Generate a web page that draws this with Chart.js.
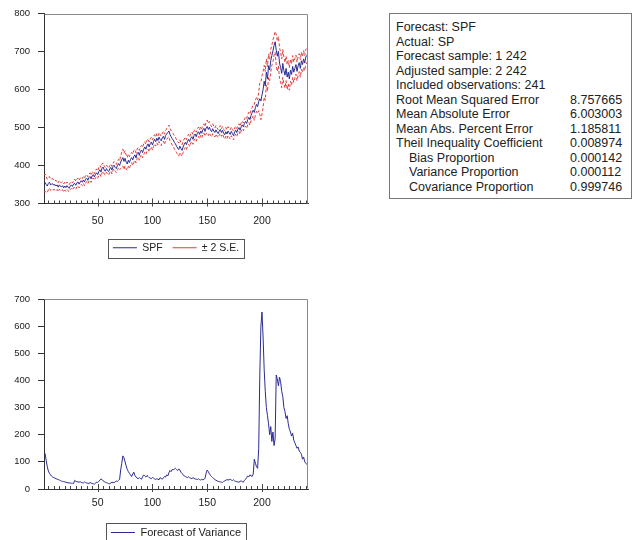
<!DOCTYPE html>
<html><head><meta charset="utf-8">
<script src="https://cdn.jsdelivr.net/npm/chart.js@4.4.1/dist/chart.umd.min.js"></script>
<style>
html,body{margin:0;padding:0;background:#fff;width:634px;height:540px;overflow:hidden;font-family:"Liberation Sans",Arial,sans-serif;}
#w1{position:absolute;left:0;top:0;width:320px;height:263px;}
#w2{position:absolute;left:0;top:280px;width:320px;height:268px;}
#stats{position:absolute;left:389px;top:13px;width:229px;border:1px solid #777;padding:6px 6px 4px 6px;font-size:12.5px;line-height:14.5px;color:#222;}
#stats table{border-collapse:collapse;width:100%;}
#stats td{padding:0;white-space:nowrap;}
#stats td.v{width:55px;}
#stats td.ind{padding-left:13px;}
</style></head>
<body>
<div id="w1"><canvas id="c1"></canvas></div>
<div id="w2"><canvas id="c2"></canvas></div>
<div id="stats"></div>
<script>
// ---- data ----
const obs = Array.from({length: 242}, (_, i) => i + 1); // observation numbers 1..242
const spf = [
352,355,350,346,353,356,349,351,352,348,
350,346,349,343,349,345,344,347,341,346,
342,347,343,340,346,349,345,351,353,348,
354,357,351,356,360,356,362,357,364,367,
361,368,371,365,373,376,370,377,381,376,
384,389,383,393,396,388,385,392,387,384,
391,395,388,397,401,395,392,400,405,400,
409,416,421,411,419,409,404,414,408,416,
421,415,424,428,420,431,435,427,437,441,
434,443,449,443,452,457,449,458,462,454,
463,469,463,472,466,475,469,465,473,477,
469,479,483,487,491,482,476,471,467,461,
457,451,446,442,451,445,440,449,456,461,
455,464,469,463,472,476,469,479,483,476,
485,489,482,491,485,494,498,490,499,503,
495,501,493,489,497,491,487,494,488,484,
491,495,487,493,485,481,489,483,491,486,
482,490,484,479,488,493,487,496,500,493,
502,507,502,511,516,511,521,527,521,532,
539,546,540,553,561,555,569,576,570,586,
600,622,610,646,628,663,652,676,690,702,
716,726,704,688,701,670,658,643,669,650,
638,656,633,646,628,651,640,661,646,656,
666,648,663,671,656,676,666,681,670,686,
690,696];
const varianceForecast = [
118,130,105,82,66,58,52,47,44,42,
40,38,36,35,33,31,29,28,27,26,
25,24,23,22,22,21,21,20,32,28,
27,26,25,27,24,23,22,26,24,22,
21,20,24,22,20,19,18,21,26,24,
28,33,37,35,30,27,25,23,22,20,
19,22,25,24,23,27,29,28,32,35,
70,95,122,115,100,85,72,64,58,52,
46,55,62,50,44,40,38,42,39,36,
45,52,48,44,50,46,42,40,38,43,
40,37,35,38,36,34,42,39,36,41,
46,44,52,48,60,68,64,72,70,74,
76,72,68,74,70,62,58,52,48,46,
44,42,45,41,40,38,42,39,37,36,
35,38,34,33,36,34,35,40,58,70,
64,56,50,46,42,38,35,32,30,28,
27,26,25,24,28,30,32,35,33,34,
36,33,31,34,30,28,27,26,25,28,
30,27,25,32,36,42,48,45,52,49,
46,55,110,95,82,76,150,420,600,652,
560,440,360,300,270,240,200,230,175,210,
160,185,420,405,380,412,395,360,340,300,
285,260,270,240,220,210,195,205,180,170,
160,150,155,140,135,128,110,118,100,95,
90,86];
const topYTicks = [300, 400, 500, 600, 700, 800];
const bottomYTicks = [0, 100, 200, 300, 400, 500, 600, 700];
const xLabelTicks = [50, 100, 150, 200];
const statsHeader = ['Forecast: SPF','Actual: SP','Forecast sample: 1 242','Adjusted sample: 2 242','Included observations: 241'];
const statsLabels = ['Root Mean Squared Error','Mean Absolute Error','Mean Abs. Percent Error','Theil Inequality Coefficient','Bias Proportion','Variance Proportion','Covariance Proportion'];
const statsValues = ['8.757665','6.003003','1.185811','0.008974','0.000142','0.000112','0.999746'];
const statsIndented = [false,false,false,false,true,true,true];

// ±2 S.E. bands: S.E. = sqrt(forecast variance)
const upper = spf.map((v, i) => v + 2 * Math.sqrt(varianceForecast[i]));
const lower = spf.map((v, i) => v - 2 * Math.sqrt(varianceForecast[i]));

// ---- stats box ----
(function(){
  const box = document.getElementById('stats');
  let html = '<table>';
  statsHeader.forEach(t => { html += '<tr><td colspan="2">' + t + '</td></tr>'; });
  statsLabels.forEach((t, i) => {
    html += '<tr><td' + (statsIndented[i] ? ' class="ind"' : '') + '>' + t + '</td><td class="v">' + statsValues[i] + '</td></tr>';
  });
  html += '</table>';
  box.innerHTML = html;
})();

// ---- chart helpers ----
Chart.defaults.font.family = '"Liberation Sans", Arial, sans-serif';
Chart.defaults.color = '#222';

const BLUE = '#2b2b94';
const RED = '#e23a3a';

const frame = {
  id: 'frame',
  afterLayout(chart) {
    // centre the legend under the plot area
    const lg = chart.legend, a = chart.chartArea;
    if (lg) { lg.left = a.left; lg.right = a.right; lg.width = a.right - a.left; }
  },
  afterDraw(chart) {
    const {ctx, chartArea: a} = chart;
    ctx.save();
    ctx.strokeStyle = '#8a8a8a';
    ctx.lineWidth = 1;
    ctx.beginPath();
    ctx.moveTo(Math.round(a.left) + 0.5, Math.round(a.top) + 0.5);
    ctx.lineTo(Math.round(a.right) - 0.5, Math.round(a.top) + 0.5);
    ctx.lineTo(Math.round(a.right) - 0.5, Math.round(a.bottom) - 0.5);
    ctx.stroke();
    // inward minor / major ticks on the x axis
    const x = chart.scales.x;
    ctx.strokeStyle = '#444';
    ctx.beginPath();
    x.ticks.forEach(t => {
      const p = Math.round(x.getPixelForValue(t.value)) + 0.5;
      const major = xLabelTicks.includes(t.value);
      ctx.moveTo(p, a.bottom + (major ? 3 : 0));
      ctx.lineTo(p, a.bottom - (major ? 5 : 3));
    });
    ctx.stroke();
    // legend border
    const lg = chart.legend;
    if (lg && lg.legendHitBoxes && lg.legendHitBoxes.length) {
      const hb = lg.legendHitBoxes;
      const l = hb[0].left - 5, r = hb[hb.length - 1].left + hb[hb.length - 1].width + 5;
      const t = hb[0].top - 4, b = hb[0].top + hb[0].height + 4;
      ctx.strokeStyle = '#555';
      ctx.strokeRect(Math.round(l) + 0.5, Math.round(t) + 0.5, Math.round(r - l), Math.round(b - t));
    }
    ctx.restore();
  }
};

function xScale(padding, height) {
  return {
    type: 'linear', min: 1, max: 242,
    afterBuildTicks(scale) {
      const t = [];
      for (let v = 5; v <= scale.max; v += 5) t.push({value: v});
      scale.ticks = t;
    },
    afterFit(scale) { scale.height = height; },
    ticks: {
      autoSkip: false, maxRotation: 0, padding: padding,
      font: {size: 10.5}, color: '#222',
      callback: v => (xLabelTicks.includes(v) ? String(v) : '')
    },
    grid: {drawOnChartArea: false, drawTicks: false},
    border: {display: true, color: '#333', width: 1}
  };
}
function yScale(min, max, tickVals) {
  return {
    type: 'linear', min: min, max: max,
    afterBuildTicks(scale) { scale.ticks = tickVals.map(v => ({value: v})); },
    afterFit(scale) { scale.width = 44; },
    ticks: {padding: 8, font: {size: 9.5}, color: '#222'},
    grid: {drawOnChartArea: false, drawTicks: true, tickLength: 6, color: '#333'},
    border: {display: true, color: '#333', width: 1}
  };
}

new Chart(document.getElementById('c1'), {
  type: 'line',
  data: {
    labels: obs,
    datasets: [
      {label: 'SPF', data: obs.map((x, i) => ({x, y: spf[i]})), borderColor: BLUE, borderWidth: 1, pointRadius: 0, tension: 0},
      {label: '\u00b1 2 S.E.', data: obs.map((x, i) => ({x, y: upper[i]})), borderColor: RED, borderWidth: 1, borderDash: [3, 2], pointRadius: 0, tension: 0},
      {label: 'lower', data: obs.map((x, i) => ({x, y: lower[i]})), borderColor: RED, borderWidth: 1, borderDash: [3, 2], pointRadius: 0, tension: 0}
    ]
  },
  options: {
    responsive: true, maintainAspectRatio: false, animation: false,
    layout: {padding: {top: 13, right: 12, bottom: 0, left: 0}},
    scales: {x: xScale(11, 29), y: yScale(300, 800, topYTicks)},
    plugins: {
      legend: {
        position: 'bottom',
        labels: {
          usePointStyle: true, pointStyle: 'line', pointStyleWidth: 24,
          padding: 10, font: {size: 10.5}, color: '#222',
          filter: item => item.datasetIndex !== 2
        }
      },
      tooltip: {enabled: false}
    }
  },
  plugins: [frame]
});

new Chart(document.getElementById('c2'), {
  type: 'line',
  data: {
    labels: obs,
    datasets: [
      {label: 'Forecast of Variance', data: obs.map((x, i) => ({x, y: varianceForecast[i]})), borderColor: BLUE, borderWidth: 1, pointRadius: 0, tension: 0}
    ]
  },
  options: {
    responsive: true, maintainAspectRatio: false, animation: false,
    layout: {padding: {top: 19, right: 12, bottom: 0, left: 0}},
    scales: {x: xScale(8, 28), y: yScale(0, 700, bottomYTicks)},
    plugins: {
      legend: {
        position: 'bottom',
        labels: {
          usePointStyle: true, pointStyle: 'line', pointStyleWidth: 24,
          padding: 10, font: {size: 11}, color: '#222'
        }
      },
      tooltip: {enabled: false}
    }
  },
  plugins: [frame]
});
</script>
</body></html>
